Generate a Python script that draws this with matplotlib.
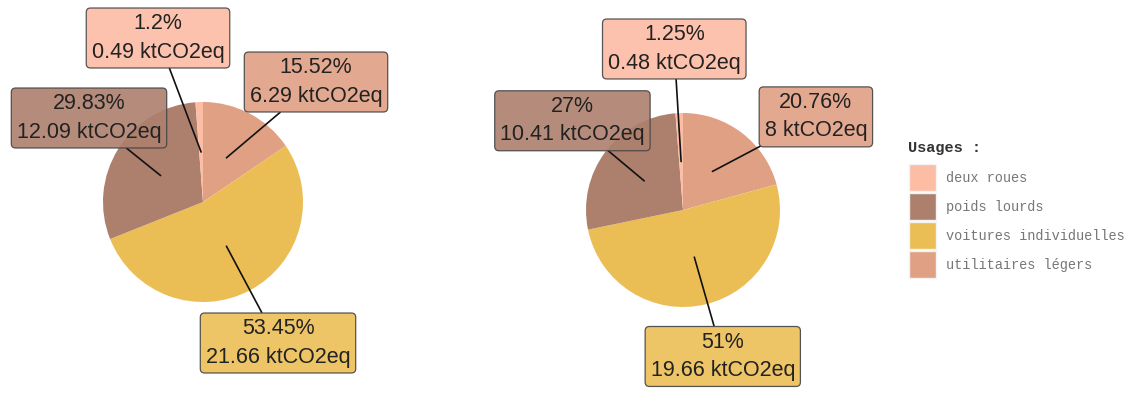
import numpy as np
import matplotlib.pyplot as plt
from matplotlib.patches import Rectangle

plt.rcParams['font.family'] = ['Liberation Sans', 'DejaVu Sans']

# usages, in the order they are drawn clockwise from 12 o'clock
usages = ['utilitaires légers', 'voitures individuelles', 'poids lourds', 'deux roues']
couleurs = {
    'deux roues': '#FDBCA4',
    'poids lourds': '#AD806E',
    'voitures individuelles': '#EBBE55',
    'utilitaires légers': '#E0A084',
}
legende_ordre = ['deux roues', 'poids lourds', 'voitures individuelles', 'utilitaires légers']

# emissions (ktCO2eq) and shares (%) for the two pies
emis_1 = [6.29, 21.66, 12.09, 0.49]
part_1 = [15.52, 53.45, 29.83, 1.2]
emis_2 = [8, 19.66, 10.41, 0.48]
part_2 = [20.76, 51, 27, 1.25]

# label box centres, in units of the pie radius
pos_1 = [(1.13, 1.20), (0.75, -1.41), (-1.14, 0.84), (-0.45, 1.64)]
pos_2 = [(1.37, 0.96), (0.41, -1.51), (-1.14, 0.92), (-0.09, 1.66)]

W, H = 1131, 394
fig = plt.figure(figsize=(W / 100, H / 100), dpi=100)


def camembert(cx, cy, r, emis, part, pos):
    ax = fig.add_axes([(cx - r) / W, (H - cy - r) / H, 2 * r / W, 2 * r / H])
    cols = [couleurs[u] for u in usages]
    wedges, _ = ax.pie(emis, colors=cols, startangle=90, counterclock=False,
                       radius=1, wedgeprops=dict(linewidth=0))
    # pie() widens the limits, bring them back to the radius
    ax.set_xlim(-1, 1)
    ax.set_ylim(-1, 1)
    ax.set_aspect('equal')
    ax.axis('off')
    for w, u, e, p, (tx, ty) in zip(wedges, usages, emis, part, pos):
        a = np.deg2rad((w.theta1 + w.theta2) / 2)
        xy = (0.5 * np.cos(a), 0.5 * np.sin(a))
        ax.annotate(f'{p:g}%\n{e:g} ktCO2eq', xy=xy, xytext=(tx, ty),
                    ha='center', va='center', fontsize=15.5, color='#222222',
                    linespacing=1.45, annotation_clip=False,
                    bbox=dict(boxstyle='round,pad=0.25,rounding_size=0.2',
                              fc=couleurs[u], ec='#444444', lw=0.9, alpha=0.9),
                    arrowprops=dict(arrowstyle='-', color='#111111', lw=1.2,
                                    shrinkA=0, shrinkB=0))


camembert(203, 202, 100, emis_1, part_1, pos_1)
camembert(683, 210, 97, emis_2, part_2, pos_2)

# legend
leg = fig.add_axes([0, 0, 1, 1])
leg.set_xlim(0, W)
leg.set_ylim(H, 0)
leg.axis('off')
leg.text(908, 148, 'Usages :', family='Liberation Mono', fontweight='bold',
         fontsize=11, color='#333333', va='center', ha='left')
for i, u in enumerate(legende_ordre):
    y0 = 164 + i * 29
    leg.add_patch(Rectangle((909, y0), 27, 27, fc=couleurs[u], ec='#f2f2f2', lw=1))
    leg.text(946, y0 + 13.5, u, family='Liberation Mono', fontsize=9.8,
             color='#777777', va='center', ha='left')

fig.savefig('out.png', dpi=100)
